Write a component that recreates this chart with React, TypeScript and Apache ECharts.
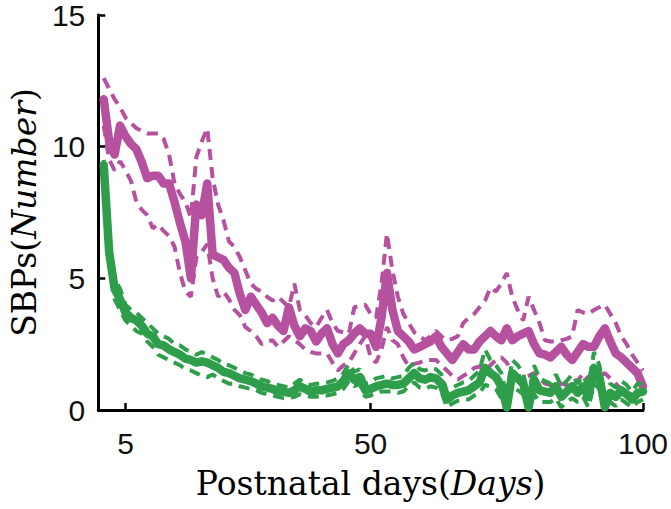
import React, { useEffect, useRef } from "react";
import * as echarts from "echarts";

const xTicks = [5, 50, 100];
const yTicks = [0, 5, 10, 15];

const magentaMean = [
  11.8, 10.2, 9.7, 10.8, 10.4, 10.1, 9.9, 9.4, 8.8, 8.9,
  8.9, 8.6, 8.6, 7.9, 7.1, 6.4, 5.0, 7.8, 7.4, 8.6,
  5.9, 5.8, 5.7, 5.4, 5.2, 4.4, 3.8, 4.3, 4.0, 3.7,
  3.3, 3.5, 3.2, 3.0, 3.9, 3.2, 2.8, 3.1, 3.0, 2.6,
  2.9, 3.1, 2.5, 2.15, 2.5, 2.65, 2.9, 3.1, 2.9, 2.9,
  2.4, 3.5, 5.2, 3.8, 3.0, 2.8, 2.6, 2.3, 2.4, 2.5,
  2.6, 2.8, 2.4, 2.15, 1.9, 2.2, 2.5, 2.3, 2.3, 2.6,
  2.8, 3.0, 2.8, 2.65, 3.1, 2.65, 2.8, 2.9, 3.0, 2.5,
  2.15, 2.1, 2.0, 2.2, 2.4, 2.1, 1.9, 2.2, 2.5, 2.4,
  2.4, 2.8, 3.1, 2.6, 2.15, 2.0, 1.8, 1.6, 1.4, 0.9,
];
const magentaUpper = [
  12.6, 12.2, 11.8, 11.5, 11.1, 10.9, 10.7, 10.6, 10.5, 10.5,
  10.5, 10.3, 9.7, 8.6, 8.2, 7.9, 7.3, 9.6, 10.2, 10.7,
  8.8, 7.8, 7.2, 6.4, 6.2, 5.8, 5.3, 4.8, 4.6, 4.5,
  4.3, 4.15, 4.3, 4.1, 3.9, 4.8, 3.8, 3.6, 3.3, 3.15,
  3.5, 3.8, 3.3, 3.0, 2.95, 2.9, 3.9, 3.95, 4.0, 3.65,
  3.5, 4.8, 6.7, 5.3, 4.3, 3.65, 3.3, 2.95, 2.8, 2.65,
  2.8, 3.0, 2.8, 2.65, 2.7, 2.8, 3.3, 3.5, 3.65, 3.9,
  4.15, 4.65, 4.5, 4.8, 5.2, 4.3, 3.8, 3.4, 4.3, 3.8,
  3.3, 2.65, 2.6, 2.6, 2.65, 2.7, 2.8, 3.8, 3.7, 3.65,
  3.8, 3.9, 4.0, 3.65, 3.3, 2.8, 2.5, 2.1, 1.8, 1.5,
];
const magentaLower = [
  10.8, 9.5, 9.1, 9.45, 9.1, 8.7, 7.9, 7.6, 7.4, 6.9,
  7.05, 6.8, 6.6, 6.2, 5.2, 4.5, 4.3, 5.8, 6.0, 6.3,
  5.0, 4.3, 4.5, 4.2, 3.8, 3.6, 3.15, 3.0, 2.8, 2.5,
  2.6, 2.65, 2.4, 2.6, 2.8, 2.65, 2.5, 2.3, 2.2, 2.15,
  2.15, 2.15, 1.8, 1.5, 1.7, 1.8, 2.15, 2.5, 2.8, 2.0,
  1.8, 2.3, 3.15, 2.65, 2.5, 2.0, 1.65, 1.75, 1.8, 1.9,
  1.9, 1.9, 1.7, 1.5, 1.3, 1.15, 1.3, 1.4, 1.6, 1.65,
  1.5, 1.7, 1.9, 2.0, 1.8, 1.4, 1.3, 1.25, 1.3, 1.4,
  1.2, 1.0, 0.95, 0.9, 1.0, 0.95, 0.9, 1.1, 1.4, 1.2,
  1.15, 1.3, 1.4, 1.2, 1.0, 0.8, 0.75, 0.55, 0.5, 0.4,
];
const greenMean = [
  9.3, 6.0, 4.6, 4.2, 3.7, 3.5, 3.4, 3.2, 2.9, 2.8,
  2.5, 2.45, 2.3, 2.2, 2.1, 1.95, 1.9, 1.8, 1.85, 1.8,
  1.7, 1.6, 1.45, 1.4, 1.3, 1.2, 1.15, 1.1, 1.0, 0.9,
  0.85, 0.8, 0.7, 0.7, 0.65, 0.75, 0.9, 0.8, 0.7, 0.75,
  0.75, 0.8, 0.85, 0.9, 1.1, 1.4, 1.15, 1.25, 0.75, 0.8,
  0.9, 0.95, 1.0, 0.95, 0.95, 1.0, 1.2, 1.4, 1.2, 1.15,
  1.25, 1.2, 1.0, 0.4, 0.55, 0.65, 0.7, 0.75, 0.9, 1.05,
  1.6, 1.4, 1.25, 0.9, 0.1, 1.4, 1.2, 1.0, 0.1, 1.15,
  0.75, 0.7, 0.65, 0.9, 0.5, 0.7, 0.9, 0.65, 0.9, 0.5,
  1.6, 1.25, 0.1, 0.65, 0.5, 0.75, 0.6, 0.4, 0.65, 0.7,
];
const greenUpper = [
  9.5, 6.4, 5.0, 4.6, 4.0, 3.8, 3.7, 3.5, 3.3, 3.1,
  2.9, 2.8, 2.7, 2.5, 2.45, 2.3, 2.2, 2.1, 2.2, 2.1,
  2.0, 1.9, 1.75, 1.7, 1.6, 1.5, 1.4, 1.35, 1.25, 1.15,
  1.1, 1.0, 0.95, 0.9, 0.85, 1.0, 1.15, 1.0, 0.95, 1.0,
  1.0, 1.05, 1.1, 1.2, 1.4, 1.75, 1.45, 1.55, 1.0, 1.05,
  1.2, 1.25, 1.3, 1.2, 1.25, 1.3, 1.6, 1.8, 1.55, 1.5,
  1.6, 1.55, 1.35, 0.7, 0.85, 0.95, 1.05, 1.1, 1.3, 1.5,
  2.3, 1.9, 1.7, 1.4, 0.5, 1.9, 1.7, 1.4, 0.5, 1.7,
  1.2, 1.1, 1.0, 1.35, 0.9, 1.1, 1.35, 1.0, 1.3, 0.9,
  2.2, 1.7, 0.4, 1.0, 0.85, 1.1, 0.95, 0.7, 1.0, 1.0,
];
const greenLower = [
  9.0, 5.6, 4.2, 3.8, 3.4, 3.2, 3.0, 2.9, 2.6, 2.4,
  2.1, 2.0, 1.9, 1.8, 1.7, 1.55, 1.5, 1.4, 1.3, 1.25,
  1.35, 1.2, 1.1, 1.0, 1.0, 0.9, 0.85, 0.8, 0.75, 0.65,
  0.6, 0.55, 0.5, 0.45, 0.45, 0.5, 0.6, 0.55, 0.5, 0.5,
  0.55, 0.55, 0.6, 0.65, 0.8, 1.1, 0.9, 1.0, 0.5, 0.55,
  0.65, 0.7, 0.7, 0.7, 0.65, 0.7, 0.9, 1.05, 0.85, 0.8,
  0.9, 0.85, 0.7, 0.1, 0.25, 0.35, 0.4, 0.4, 0.55, 0.65,
  0.95, 0.9, 0.8, 0.45, 0.0, 0.9, 0.75, 0.6, 0.0, 0.6,
  0.3, 0.3, 0.3, 0.45, 0.1, 0.3, 0.45, 0.3, 0.5, 0.1,
  1.0, 0.8, 0.0, 0.3, 0.15, 0.4, 0.25, 0.1, 0.3, 0.4,
];

const MAGENTA = "#B5519F";
const GREEN = "#2E9E4A";

function pairs(vals: number[]) {
  return vals.map((v, i) => [i + 1, v]);
}

export default function App() {
  const ref = useRef<HTMLDivElement>(null);
  useEffect(() => {
    document.body.style.margin = "0";
    const chart = echarts.init(ref.current!, null, { renderer: "svg" });
    const serif = "'DejaVu Serif', serif";
    const sans = "'Liberation Sans', Arial, sans-serif";
    const dashed = (name: string, vals: number[], color: string, z: number) => ({
      name,
      type: "line",
      data: pairs(vals),
      showSymbol: false,
      symbol: "none",
      z,
      lineStyle: { color, width: 4, type: [11, 7], cap: "butt" },
    });
    const solid = (name: string, vals: number[], color: string, z: number) => ({
      name,
      type: "line",
      data: pairs(vals),
      showSymbol: false,
      symbol: "none",
      z,
      lineStyle: { color, width: 8.5, join: "round", cap: "round" },
    });
    const nameStyle = {
      fontSize: 33,
      fontFamily: serif,
      color: "#000",
      rich: {
        r: { fontSize: 33, fontFamily: serif, color: "#000" },
        i: { fontSize: 33, fontFamily: serif, fontStyle: "italic", color: "#000" },
      },
    };
    chart.setOption({
      animation: false,
      backgroundColor: "#fff",
      grid: { left: 96, top: 13, width: 550, height: 397, containLabel: false },
      xAxis: {
        type: "value",
        min: 0,
        max: 100,
        name: "{r|Postnatal days(}{i|Days}{r|)}",
        nameLocation: "middle",
        nameGap: 57,
        nameTextStyle: nameStyle,
        axisLine: { show: true, onZero: false, lineStyle: { color: "#000", width: 3 } },
        axisTick: { show: true, inside: true, length: 7, customValues: xTicks, lineStyle: { color: "#000", width: 2.5 } },
        axisLabel: { customValues: xTicks, fontSize: 30, fontFamily: sans, color: "#111", margin: 18 },
        splitLine: { show: false },
      },
      yAxis: {
        type: "value",
        min: 0,
        max: 15,
        interval: 5,
        name: "{r|SBPs(}{i|Number}{r|)}",
        nameLocation: "middle",
        nameRotate: 90,
        nameGap: 57,
        nameTextStyle: nameStyle,
        axisLine: { show: true, onZero: false, lineStyle: { color: "#000", width: 3 } },
        axisTick: { show: true, inside: true, length: 7, lineStyle: { color: "#000", width: 2.5 } },
        axisLabel: { fontSize: 30, fontFamily: sans, color: "#111", margin: 13, customValues: yTicks },
        splitLine: { show: false },
      },
      series: [
        solid("magentaMean", magentaMean, MAGENTA, 2),
        dashed("magentaUpper", magentaUpper, MAGENTA, 3),
        dashed("magentaLower", magentaLower, MAGENTA, 3),
        solid("greenMean", greenMean, GREEN, 4),
        dashed("greenUpper", greenUpper, GREEN, 5),
        dashed("greenLower", greenLower, GREEN, 5),
      ],
    });
    return () => chart.dispose();
  }, []);
  return <div ref={ref} style={{ width: 671, height: 509 }} />;
}
